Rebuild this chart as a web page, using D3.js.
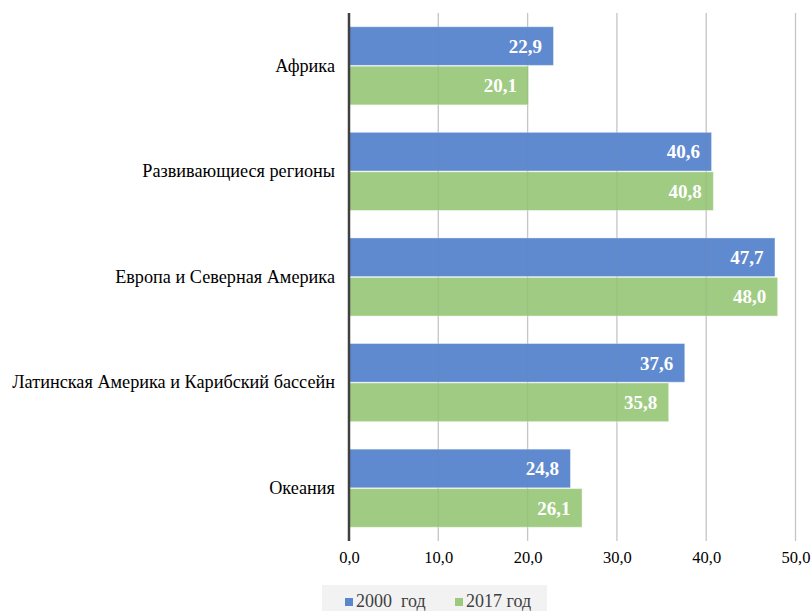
<!DOCTYPE html>
<html><head><meta charset="utf-8">
<script src="https://cdn.jsdelivr.net/npm/d3@7"></script>
<style>body{margin:0;background:#fff}svg{display:block}</style>
</head><body>
<svg id="c" width="811" height="611"></svg>
<script>
const categories = ["Африка","Развивающиеся регионы","Европа и Северная Америка","Латинская Америка и Карибский бассейн","Океания"];
const seriesNames = ["2000  год","2017 год"];
const values2000 = [22.9, 40.6, 47.7, 37.6, 24.8];
const values2017 = [20.1, 40.8, 48.0, 35.8, 26.1];
const tickValues = [0,10,20,30,40,50];
const colors = ["#5b86cd","#9dc97f"];

(function(){
const FF = "Liberation Serif";
const svg = d3.select("#c");
const pL = 349, pR = 795.5, pT = 13, pB = 541;
const x = d3.scaleLinear().domain([0,50]).range([pL,pR]);
const y = d3.scaleBand().domain(categories).range([pT,pB]).paddingInner(0.26).paddingOuter(0.13);
const ys = d3.scaleBand().domain(seriesNames).range([0,y.bandwidth()]).paddingInner(0.02);
const fmt = v => v.toFixed(1).replace(".", ",");

svg.append("g").selectAll("line").data(tickValues.slice(1)).join("line")
  .attr("x1", d=>x(d)).attr("x2", d=>x(d)).attr("y1", pT).attr("y2", pB)
  .attr("stroke","#d0d0d0").attr("stroke-width",1.3);

const series = [values2000, values2017];
series.forEach((vals, si) => {
  const g = svg.append("g");
  g.selectAll("rect").data(categories).join("rect")
    .attr("x", x(0)).attr("y", (c)=>y(c)+ys(seriesNames[si]))
    .attr("width", (c,i)=>x(vals[i])-x(0)).attr("height", ys.bandwidth())
    .attr("fill", colors[si]).attr("fill-opacity",0.97)
    .attr("stroke","#ffffff").attr("stroke-opacity",0.4).attr("stroke-width",1);
  g.selectAll("text").data(categories).join("text")
    .attr("x", (c,i)=>x(vals[i])-11.5)
    .attr("y", (c)=>y(c)+ys(seriesNames[si])+ys.bandwidth()/2)
    .attr("dy","0.35em").attr("text-anchor","end")
    .attr("font-family",FF)
    .attr("font-size",19).attr("font-weight","bold").attr("fill","#fff")
    .text((c,i)=>fmt(vals[i]));
});

svg.append("g").selectAll("line").data(tickValues.slice(1)).join("line")
  .attr("x1", d=>x(d)).attr("x2", d=>x(d)).attr("y1", pT).attr("y2", pB)
  .attr("stroke","#808080").attr("stroke-opacity",0.12).attr("stroke-width",1.3);

svg.append("line").attr("x1",x(0)).attr("x2",x(0)).attr("y1",pT).attr("y2",pB)
  .attr("stroke","#404040").attr("stroke-width",2.5);

// category labels, sized so the longest matches the reference width
const yAxis = d3.axisLeft(y).tickSize(0).tickPadding(14);
const ya = svg.append("g").attr("transform",`translate(${x(0)},0)`).call(yAxis);
ya.select(".domain").remove();
ya.attr("font-family",FF).attr("font-size",16);
const yt = ya.selectAll("text").attr("fill","#000");
let maxW = 0; yt.each(function(){ maxW = Math.max(maxW, this.getComputedTextLength()); });
ya.attr("font-size", Math.min(19, 16 * 323 / maxW));

const xAxis = d3.axisBottom(x).tickValues(tickValues).tickSize(0).tickPadding(0).tickFormat(fmt);
const xa = svg.append("g").attr("transform",`translate(0,${pB+10})`).call(xAxis);
xa.select(".domain").remove();
xa.attr("font-family",FF).attr("font-size",16.5);
xa.selectAll("text").attr("fill","#000");

const lg = svg.append("g");
lg.append("rect").attr("x",322).attr("y",585).attr("width",225).attr("height",26).attr("fill","#f2f2f2");
const lx = [345, 455];
seriesNames.forEach((n,i)=>{
  lg.append("rect").attr("x",lx[i]).attr("y",598).attr("width",8).attr("height",8).attr("fill",colors[i]);
  lg.append("text").attr("x",lx[i]+11).attr("y",601).attr("dy","0.36em")
    .attr("font-family",FF).attr("font-size",18)
    .attr("fill","#404040").style("white-space","pre").text(n);
});
})();
</script>
</body></html>
